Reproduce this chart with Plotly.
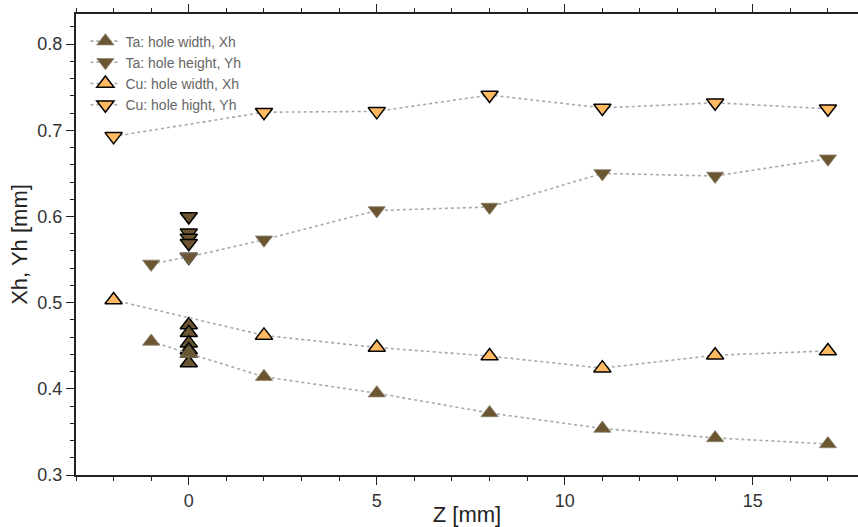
import plotly.graph_objects as go

# Data
z_main = [-2, 2, 5, 8, 11, 14, 17]
cu_xh = [0.503, 0.462, 0.448, 0.438, 0.424, 0.439, 0.444]
cu_yh = [0.693, 0.721, 0.722, 0.741, 0.726, 0.732, 0.725]

z_ta = [-1, 0, 2, 5, 8, 11, 14, 17]
ta_xh = [0.455, 0.441, 0.414, 0.395, 0.372, 0.354, 0.343, 0.336]
ta_yh = [0.545, 0.553, 0.573, 0.607, 0.611, 0.650, 0.647, 0.667]

z_extra_x = [0, 0, 0, 0, 0, 0]
ta_xh_extra = [0.474, 0.465, 0.453, 0.445, 0.441, 0.430]
z_extra_y = [0, 0, 0, 0, 0]
ta_yh_extra = [0.600, 0.581, 0.575, 0.569, 0.553]

DARK = "#6b5631"
LIGHT = "#ffb961"
LINE = dict(color="#a8a8a8", width=1.6, dash="dot")
MS = 15

fig = go.Figure()

# extra points at z=0 (no line)
fig.add_trace(go.Scatter(x=z_extra_x, y=ta_xh_extra, mode="markers", showlegend=False,
                         marker=dict(symbol="triangle-up", size=MS, color=DARK,
                                     line=dict(color="black", width=1.5))))
fig.add_trace(go.Scatter(x=z_extra_y, y=ta_yh_extra, mode="markers", showlegend=False,
                         marker=dict(symbol="triangle-down", size=MS, color=DARK,
                                     line=dict(color="black", width=1.5))))

fig.add_trace(go.Scatter(x=z_ta, y=ta_xh, mode="lines+markers", name="Ta: hole width, Xh",
                         line=LINE,
                         marker=dict(symbol="triangle-up", size=MS, color=DARK,
                                     line=dict(color="#8a8470", width=0.8))))
fig.add_trace(go.Scatter(x=z_ta, y=ta_yh, mode="lines+markers", name="Ta: hole height, Yh",
                         line=LINE,
                         marker=dict(symbol="triangle-down", size=MS, color=DARK,
                                     line=dict(color="#8a8470", width=0.8))))
fig.add_trace(go.Scatter(x=z_main, y=cu_xh, mode="lines+markers", name="Cu: hole width, Xh",
                         line=LINE,
                         marker=dict(symbol="triangle-up", size=MS, color=LIGHT,
                                     line=dict(color="black", width=1.5))))
fig.add_trace(go.Scatter(x=z_main, y=cu_yh, mode="lines+markers", name="Cu: hole hight, Yh",
                         line=LINE,
                         marker=dict(symbol="triangle-down", size=MS, color=LIGHT,
                                     line=dict(color="black", width=1.5))))

fig.update_layout(
    width=858, height=527,
    margin=dict(l=76, r=0, t=14, b=52),
    plot_bgcolor="white", paper_bgcolor="white",
    font=dict(family="Liberation Sans, Arial, sans-serif", color="#222"),
    legend=dict(x=0.012, y=0.975, xanchor="left", yanchor="top",
                bgcolor="rgba(0,0,0,0)", font=dict(size=14, color="#666"),
                itemwidth=30, tracegroupgap=0),
    xaxis=dict(
        range=[-3, 17.8], showgrid=False, zeroline=False,
        showline=True, linecolor="#222", linewidth=2, mirror="ticks",
        ticks="outside", ticklen=8, tickwidth=1.2, tickcolor="#222",
        tickmode="array", tickvals=[0, 5, 10, 15],
        minor=dict(ticks="outside", ticklen=4, dtick=1, tick0=0, tickcolor="#222", tickwidth=1),
        tickfont=dict(size=18, color="#333"),
        title=dict(text="Z [mm]", standoff=2,
                   font=dict(size=22, family="Liberation Sans Narrow, Arial Narrow, sans-serif", color="#222")),
    ),
    yaxis=dict(
        range=[0.3, 0.835], showgrid=False, zeroline=False,
        showline=True, linecolor="#222", linewidth=2, mirror=False,
        ticks="outside", ticklen=8, tickwidth=1.2, tickcolor="#222",
        tickmode="array", tickvals=[0.3, 0.4, 0.5, 0.6, 0.7, 0.8],
        ticktext=["0.3", "0.4", "0.5", "0.6", "0.7", "0.8"],
        minor=dict(ticks="outside", ticklen=4, dtick=0.02, tick0=0.3, tickcolor="#222", tickwidth=1),
        tickfont=dict(size=18, color="#333"),
        title=dict(text="Xh, Yh [mm]", standoff=4, font=dict(size=22, color="#222")),
    ),
)

fig.write_html("out.html")
